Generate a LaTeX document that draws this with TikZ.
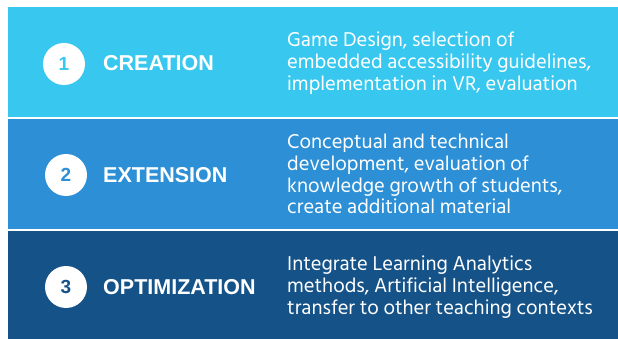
\documentclass[tikz,border=0pt]{standalone}
\usepackage{fontspec}
\setmainfont{Liberation Sans}
\newfontfamily\bodyfont{Hind Siliguri}
\usepackage{tikz}
\usetikzlibrary{positioning}
\definecolor{creationblue}{HTML}{38C8EF}
\definecolor{extensionblue}{HTML}{2D90D6}
\definecolor{optimblue}{HTML}{155288}
\tikzset{
  phaseband/.style={fill=#1, draw=none, anchor=north west, minimum width=610pt, inner sep=0pt},
  phasenum/.style={circle, fill=white, minimum size=42pt, inner sep=0pt, text=#1, font=\bfseries\fontsize{19}{19}\selectfont},
  phasetitle/.style={anchor=west, inner sep=0pt, text=white, font=\bfseries\fontsize{21.5}{21.5}\selectfont},
  phasetext/.style={anchor=west, inner sep=0pt, text=white, align=left, font=\bodyfont\fontsize{20.5}{21.7}\selectfont}
}

\begin{document}
\begin{tikzpicture}[x=1pt,y=-1pt]
\useasboundingbox[fill=white] (0,0) rectangle (618,339);
% bands
\node[phaseband=creationblue, minimum height=110pt] (creation) at (8,7) {};
\node[phaseband=extensionblue, minimum height=110pt] (extension) at (8,119) {};
\node[phaseband=optimblue, minimum height=108pt] (optimization) at (8,231) {};
% numbers
\node[phasenum=creationblue] (num1) at (64,64) {1};
\node[phasenum=extensionblue] (num2) at (66,175) {2};
\node[phasenum=optimblue] (num3) at (66,287) {3};
% titles
\node[phasetitle] (title1) at (103,63.5) {CREATION};
\node[phasetitle] (title2) at (103,175.5) {EXTENSION};
\node[phasetitle] (title3) at (103,287.5) {OPTIMIZATION};
% descriptions
\node[phasetext] (text1) at (287,63) {Game Design, selection of\\embedded accessibility guidelines,\\implementation in VR, evaluation};
\node[phasetext] (text2) at (287,174) {Conceptual and technical\\development, evaluation of\\knowledge growth of students,\\create additional material};
\node[phasetext] (text3) at (287,287) {Integrate Learning Analytics\\methods, Artificial Intelligence,\\transfer to other teaching contexts};
\end{tikzpicture}
\end{document}
